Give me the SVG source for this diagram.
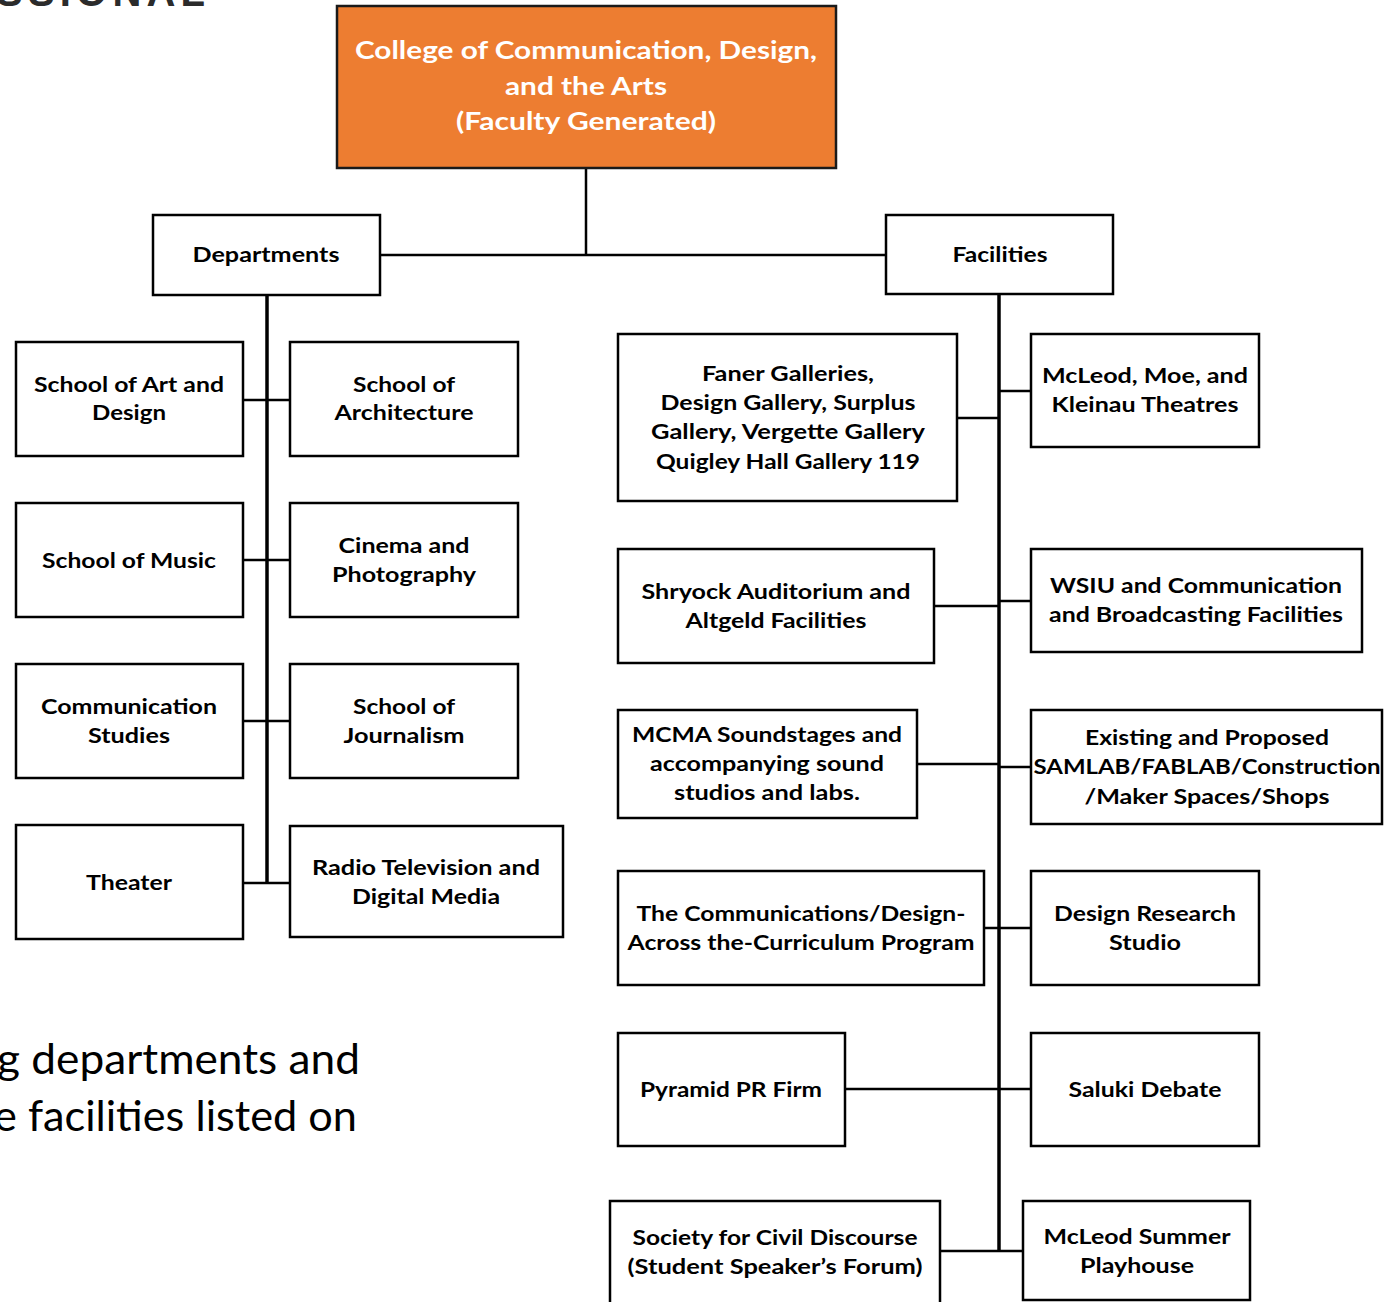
<svg xmlns="http://www.w3.org/2000/svg" width="1391" height="1302" viewBox="0 0 1391 1302">
<style>
.box{fill:#fff;stroke:#000;stroke-width:2.5}
.top{fill:#ED7D31;stroke:#1a1a1a;stroke-width:2.5}
.t{font-family:Lato,"Open Sans","Liberation Sans",sans-serif;font-weight:700;font-size:20px;text-anchor:middle;fill:#000}
.tw{font-family:Lato,"Open Sans","Liberation Sans",sans-serif;font-weight:700;font-size:24px;text-anchor:middle;fill:#fff}
.body{font-family:Lato,"Open Sans","Liberation Sans",sans-serif;font-size:42px;fill:#000}
.c{stroke:#000;stroke-width:2.5;fill:none}
.sp{stroke:#000;stroke-width:3.5;fill:none}
</style>
<rect width="1391" height="1302" fill="#fff"/>
<text x="-4" y="6" font-family="Liberation Sans,Arial,sans-serif" font-weight="700" font-size="40" fill="#2b2b2b" textLength="209" lengthAdjust="spacing">SSIONAL</text>
<g id="connectors">
<path class="c" d="M586 168V255M381 255H886"/>
<path class="sp" d="M267 295V883"/>
<path class="c" d="M243 400H290M243 560H290M243 721H290M243 883H290"/>
<path class="sp" d="M999 294V1251"/>
<path class="c" d="M957 418H999M999 391H1031M934 606H999M999 601H1031M917 764H999M999 767H1031M984 928H1031M845 1089H1031M940 1251H1023"/>
</g>
<g id="college">
<rect class="top" x="337" y="6" width="499" height="162"/>
<text class="tw" x="586" y="59" textLength="462" lengthAdjust="spacingAndGlyphs">College of Communication, Design,</text>
<text class="tw" x="586" y="95" textLength="162" lengthAdjust="spacingAndGlyphs">and the Arts</text>
<text class="tw" x="586" y="130" textLength="260" lengthAdjust="spacingAndGlyphs">(Faculty Generated)</text>
</g>
<g id="departments">
<rect class="box" x="153" y="215" width="227" height="80"/>
<text class="t" x="266" y="262" textLength="147" lengthAdjust="spacingAndGlyphs">Departments</text>
</g>
<g id="facilities">
<rect class="box" x="886" y="215" width="227" height="79"/>
<text class="t" x="1000" y="262" textLength="95" lengthAdjust="spacingAndGlyphs">Facilities</text>
</g>
<g id="art-design">
<rect class="box" x="16" y="342" width="227" height="114"/>
<text class="t" x="129" y="392" textLength="190" lengthAdjust="spacingAndGlyphs">School of Art and</text>
<text class="t" x="129" y="420" textLength="74" lengthAdjust="spacingAndGlyphs">Design</text>
</g>
<g id="architecture">
<rect class="box" x="290" y="342" width="228" height="114"/>
<text class="t" x="404" y="392" textLength="102" lengthAdjust="spacingAndGlyphs">School of</text>
<text class="t" x="404" y="420" textLength="139" lengthAdjust="spacingAndGlyphs">Architecture</text>
</g>
<g id="music">
<rect class="box" x="16" y="503" width="227" height="114"/>
<text class="t" x="129" y="568" textLength="174" lengthAdjust="spacingAndGlyphs">School of Music</text>
</g>
<g id="cinema">
<rect class="box" x="290" y="503" width="228" height="114"/>
<text class="t" x="404" y="553" textLength="131" lengthAdjust="spacingAndGlyphs">Cinema and</text>
<text class="t" x="404" y="582" textLength="144" lengthAdjust="spacingAndGlyphs">Photography</text>
</g>
<g id="communication-studies">
<rect class="box" x="16" y="664" width="227" height="114"/>
<text class="t" x="129" y="714" textLength="176" lengthAdjust="spacingAndGlyphs">Communication</text>
<text class="t" x="129" y="743" textLength="82" lengthAdjust="spacingAndGlyphs">Studies</text>
</g>
<g id="journalism">
<rect class="box" x="290" y="664" width="228" height="114"/>
<text class="t" x="404" y="714" textLength="102" lengthAdjust="spacingAndGlyphs">School of</text>
<text class="t" x="404" y="743" textLength="121" lengthAdjust="spacingAndGlyphs">Journalism</text>
</g>
<g id="theater">
<rect class="box" x="16" y="825" width="227" height="114"/>
<text class="t" x="129" y="890" textLength="86" lengthAdjust="spacingAndGlyphs">Theater</text>
</g>
<g id="radio-tv">
<rect class="box" x="290" y="826" width="273" height="111"/>
<text class="t" x="426" y="875" textLength="228" lengthAdjust="spacingAndGlyphs">Radio Television and</text>
<text class="t" x="426" y="904" textLength="148" lengthAdjust="spacingAndGlyphs">Digital Media</text>
</g>
<g id="faner">
<rect class="box" x="618" y="334" width="339" height="167"/>
<text class="t" x="788" y="381" textLength="172" lengthAdjust="spacingAndGlyphs">Faner Galleries,</text>
<text class="t" x="788" y="410" textLength="255" lengthAdjust="spacingAndGlyphs">Design Gallery, Surplus</text>
<text class="t" x="788" y="439" textLength="274" lengthAdjust="spacingAndGlyphs">Gallery, Vergette Gallery</text>
<text class="t" x="788" y="469" textLength="264" lengthAdjust="spacingAndGlyphs">Quigley Hall Gallery 119</text>
</g>
<g id="mcleod-theatres">
<rect class="box" x="1031" y="334" width="228" height="113"/>
<text class="t" x="1145" y="383" textLength="206" lengthAdjust="spacingAndGlyphs">McLeod, Moe, and</text>
<text class="t" x="1145" y="412" textLength="187" lengthAdjust="spacingAndGlyphs">Kleinau Theatres</text>
</g>
<g id="shryock">
<rect class="box" x="618" y="549" width="316" height="114"/>
<text class="t" x="776" y="599" textLength="269" lengthAdjust="spacingAndGlyphs">Shryock Auditorium and</text>
<text class="t" x="776" y="628" textLength="181" lengthAdjust="spacingAndGlyphs">Altgeld Facilities</text>
</g>
<g id="wsiu">
<rect class="box" x="1031" y="549" width="331" height="103"/>
<text class="t" x="1196" y="593" textLength="292" lengthAdjust="spacingAndGlyphs">WSIU and Communication</text>
<text class="t" x="1196" y="622" textLength="294" lengthAdjust="spacingAndGlyphs">and Broadcasting Facilities</text>
</g>
<g id="mcma">
<rect class="box" x="618" y="710" width="299" height="108"/>
<text class="t" x="767" y="742" textLength="270" lengthAdjust="spacingAndGlyphs">MCMA Soundstages and</text>
<text class="t" x="767" y="771" textLength="234" lengthAdjust="spacingAndGlyphs">accompanying sound</text>
<text class="t" x="767" y="800" textLength="186" lengthAdjust="spacingAndGlyphs">studios and labs.</text>
</g>
<g id="samlab">
<rect class="box" x="1031" y="710" width="351" height="114"/>
<text class="t" x="1207" y="745" textLength="244" lengthAdjust="spacingAndGlyphs">Existing and Proposed</text>
<text class="t" x="1207" y="774" textLength="347" lengthAdjust="spacingAndGlyphs">SAMLAB/FABLAB/Construction</text>
<text class="t" x="1207" y="804" textLength="245" lengthAdjust="spacingAndGlyphs">/Maker Spaces/Shops</text>
</g>
<g id="cdac">
<rect class="box" x="618" y="871" width="366" height="114"/>
<text class="t" x="801" y="921" textLength="329" lengthAdjust="spacingAndGlyphs">The Communications/Design-</text>
<text class="t" x="801" y="950" textLength="347" lengthAdjust="spacingAndGlyphs">Across the-Curriculum Program</text>
</g>
<g id="design-research">
<rect class="box" x="1031" y="871" width="228" height="114"/>
<text class="t" x="1145" y="921" textLength="182" lengthAdjust="spacingAndGlyphs">Design Research</text>
<text class="t" x="1145" y="950" textLength="72" lengthAdjust="spacingAndGlyphs">Studio</text>
</g>
<g id="pyramid">
<rect class="box" x="618" y="1033" width="227" height="113"/>
<text class="t" x="731" y="1097" textLength="182" lengthAdjust="spacingAndGlyphs">Pyramid PR Firm</text>
</g>
<g id="saluki">
<rect class="box" x="1031" y="1033" width="228" height="113"/>
<text class="t" x="1145" y="1097" textLength="153" lengthAdjust="spacingAndGlyphs">Saluki Debate</text>
</g>
<g id="society">
<rect class="box" x="610" y="1201" width="330" height="120"/>
<text class="t" x="775" y="1245" textLength="285" lengthAdjust="spacingAndGlyphs">Society for Civil Discourse</text>
<text class="t" x="775" y="1274" textLength="295" lengthAdjust="spacingAndGlyphs">(Student Speaker’s Forum)</text>
</g>
<g id="mcleod-summer">
<rect class="box" x="1023" y="1201" width="227" height="99"/>
<text class="t" x="1137" y="1244" textLength="187" lengthAdjust="spacingAndGlyphs">McLeod Summer</text>
<text class="t" x="1137" y="1273" textLength="114" lengthAdjust="spacingAndGlyphs">Playhouse</text>
</g>
<text class="body" x="-3" y="1074" textLength="363" lengthAdjust="spacingAndGlyphs">g departments and</text>
<text class="body" x="-6" y="1131" textLength="363" lengthAdjust="spacingAndGlyphs">e facilities listed on</text>
</svg>
